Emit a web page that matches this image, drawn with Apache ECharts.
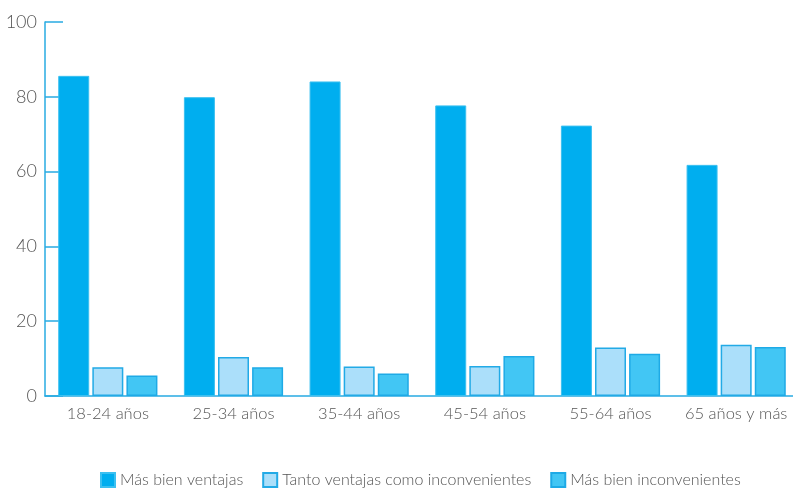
<!DOCTYPE html>
<html>
<head>
<meta charset="utf-8">
<script src="https://cdn.jsdelivr.net/npm/echarts@6/dist/echarts.min.js"></script>
<style>
  html, body { margin: 0; padding: 0; background: #fff; }
  #chart { width: 793px; height: 490px; }
</style>
</head>
<body>
<div id="chart"></div>
<script>
// categorías y valores
const categorias = ['18-24 años', '25-34 años', '35-44 años', '45-54 años', '55-64 años', '65 años y más'];
const masBienVentajas = [85.6, 79.9, 84.1, 77.7, 72.3, 61.8];
const tantoComo = [7.7, 10.4, 7.9, 8.0, 13.0, 13.7];
const masBienInconvenientes = [5.5, 7.7, 6.0, 10.7, 11.3, 13.1];
const ticksY = [0, 20, 40, 60, 80, 100];

const fuente = 'Lato';
const colorEje = '#29abe2';

const dom = document.getElementById('chart');
const chart = echarts.init(dom);

const option = {
    animation: false,
    textStyle: { fontFamily: fuente },
    grid: { left: 45, top: 22, bottom: 94, width: 754, outerBoundsMode: 'none' },
    legend: {
        top: 467,
        left: 95,
        itemWidth: 14,
        itemHeight: 14,
        itemGap: 19,
        icon: 'rect',
        textStyle: { fontFamily: fuente, fontSize: 16, color: '#555', fontWeight: 300 },
        data: ['Más bien ventajas', 'Tanto ventajas como inconvenientes', 'Más bien inconvenientes']
    },
    xAxis: {
        type: 'category',
        data: categorias,
        axisLine: { lineStyle: { color: colorEje, width: 1.5 } },
        axisTick: { inside: true, length: 8, lineStyle: { color: colorEje, width: 1.5 } },
        axisLabel: { interval: 0, color: '#555', fontSize: 16.5, fontWeight: 300, margin: 9 }
    },
    yAxis: {
        type: 'value',
        min: ticksY[0],
        max: ticksY[ticksY.length - 1],
        interval: 20,
        splitLine: { show: false },
        axisLine: { show: true, lineStyle: { color: colorEje, width: 1.5 } },
        axisTick: { show: true, inside: true, length: 18, lineStyle: { color: colorEje, width: 1.5 } },
        axisLabel: { color: '#555', fontSize: 18, fontWeight: 300, margin: 8 }
    },
    series: [
        {
            name: 'Más bien ventajas',
            type: 'bar',
            data: masBienVentajas,
            barWidth: 31,
            barGap: '10%',
            itemStyle: { color: '#00aeef', borderColor: '#3cc0f0', borderWidth: 1 }
        },
        {
            name: 'Tanto ventajas como inconvenientes',
            type: 'bar',
            data: tantoComo,
            barWidth: 31,
            barGap: '10%',
            itemStyle: { color: '#abdffa', borderColor: '#22aae6', borderWidth: 1.5 }
        },
        {
            name: 'Más bien inconvenientes',
            type: 'bar',
            data: masBienInconvenientes,
            barWidth: 31,
            barGap: '10%',
            itemStyle: { color: '#42c6f4', borderColor: '#1eaae6', borderWidth: 1.5 }
        }
    ]
};

chart.setOption(option);
</script>
</body>
</html>
